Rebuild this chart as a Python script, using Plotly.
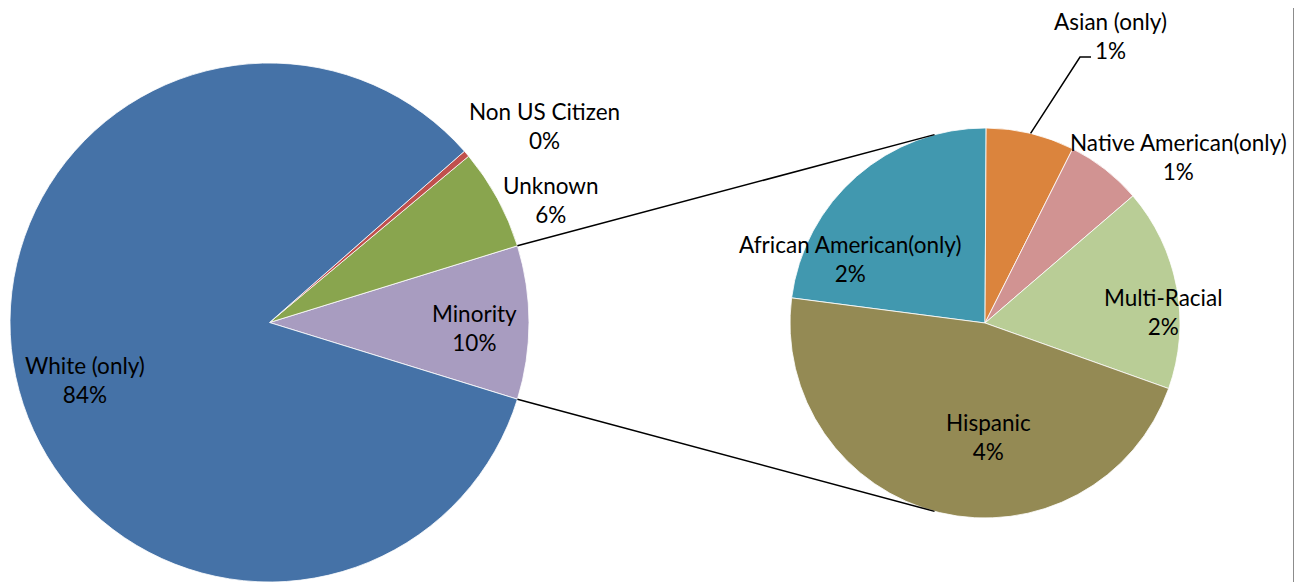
import math
import plotly.graph_objects as go

# ---------------- data ----------------
main_labels = ["Unknown", "Non US Citizen", "White (only)"]
main_values = [6.3, 0.4, 83.75]
other_label = "Minority"

sub_labels = ["African American(only)", "Asian (only)", "Native American(only)",
              "Multi-Racial", "Hispanic"]
sub_values = [2.2, 0.7, 0.6, 1.6, 4.45]

main_colors = ["#89A54E", "#C0504D", "#4572A7"]
other_color = "#A89CC0"
sub_colors = ["#4198AF", "#DB843D", "#D19392", "#B9CD96", "#948A54"]

# ---------------- layout geometry (page pixels) ----------------
OFF = 8                      # default body margin of the html page
W, H = 1302 - OFF, 582 - OFF
L_CX, L_CY, L_R = 269.5, 322.5, 259.5
R_CX, R_CY, R_R = 985.0, 323.0, 195.0
R_ROT = -82.6  # right pie rotation (deg, plotly convention)


def px(x):
    return (x - OFF) / W


def py(y):
    return 1 - (y - OFF) / H


other_value = sum(sub_values)
left_labels = [other_label] + main_labels
left_values = [other_value] + main_values
left_colors = [other_color] + main_colors
total = sum(left_values)
other_angle = other_value / total * 360.0

fig = go.Figure()
fig.add_trace(go.Pie(
    labels=left_labels, values=left_values, sort=False,
    direction="counterclockwise", rotation=90 - other_angle / 2,
    marker=dict(colors=left_colors, line=dict(color="white", width=0.8)),
    textinfo="none", hoverinfo="label+percent",
    domain=dict(x=[px(L_CX - L_R), px(L_CX + L_R)], y=[0, py(L_CY - L_R)]),
    showlegend=False,
))
fig.add_trace(go.Pie(
    labels=sub_labels, values=sub_values, sort=False,
    direction="clockwise", rotation=R_ROT,
    marker=dict(colors=sub_colors, line=dict(color="white", width=0.8)),
    textinfo="none", hoverinfo="label+value",
    domain=dict(x=[px(R_CX - R_R), px(R_CX + R_R)], y=[py(R_CY + R_R), py(R_CY - R_R)]),
    showlegend=False,
))


def pct(v):
    return f"{v / total * 100:.0f}%"


font = dict(family="Lato, 'Open Sans', sans-serif", size=22.5, color="#000000")
annotations = []

label_pos = {
    "White (only)": (85, 380),
    "Minority": (474, 328),
    "Unknown": (551, 200),
    "Non US Citizen": (544, 126),
    "Asian (only)": (1110, 36),
    "Native American(only)": (1178, 157),
    "African American(only)": (850, 259),
    "Multi-Racial": (1163, 312),
    "Hispanic": (988, 437),
}
for lab, val in list(zip(left_labels, left_values)) + list(zip(sub_labels, sub_values)):
    x, y = label_pos[lab]
    annotations.append(dict(x=px(x), y=py(y), xref="paper", yref="paper",
                            xanchor="center", yanchor="middle",
                            text=f"{lab}<br>{pct(val)}", showarrow=False,
                            font=font, align="center"))

# series lines connecting the two pies
half = math.radians(other_angle / 2)
conn_angle = math.radians(105)
shapes = []
for s in (1, -1):
    x0 = L_CX + L_R * math.cos(half)
    y0 = L_CY - s * L_R * math.sin(half)
    x1 = R_CX + R_R * math.cos(conn_angle)
    y1 = R_CY - s * R_R * math.sin(conn_angle)
    shapes.append(dict(type="line", xref="paper", yref="paper",
                       x0=px(x0), y0=py(y0), x1=px(x1), y1=py(y1),
                       line=dict(color="black", width=1.5)))

# leader line for the Asian label
sub_total = sum(sub_values)
start = 90 - R_ROT  # math angle of first slice start
acc = 0.0
for lab, val in zip(sub_labels, sub_values):
    a0 = start - acc / sub_total * 360
    acc += val
    a1 = start - acc / sub_total * 360
    if lab == "Asian (only)":
        mid = math.radians((a0 + a1) / 2)
        sx = R_CX + R_R * math.cos(mid)
        sy = R_CY - R_R * math.sin(mid)
        shapes.append(dict(type="path", xref="paper", yref="paper",
                           path=f"M {px(sx)} {py(sy)} L {px(1080)} {py(57)} L {px(1091)} {py(57)}",
                           line=dict(color="black", width=1.5)))

# chart border on the right
shapes.append(dict(type="line", xref="paper", yref="paper",
                   x0=px(1294), x1=px(1294), y0=0, y1=1,
                   line=dict(color="#8C8C8C", width=2)))

fig.update_layout(
    width=W, height=H, margin=dict(l=0, r=0, t=0, b=0),
    paper_bgcolor="white", plot_bgcolor="white",
    annotations=annotations, shapes=shapes, showlegend=False,
)

fig.write_html("out.html")
